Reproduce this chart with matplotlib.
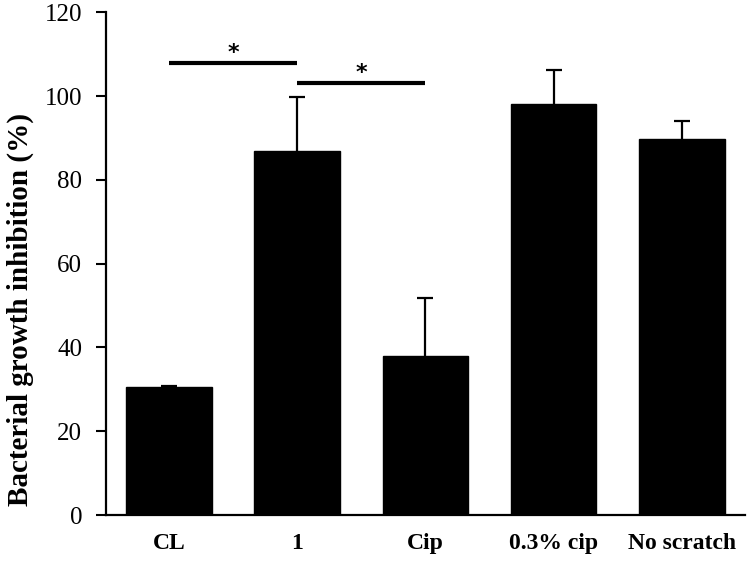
import matplotlib
matplotlib.use("Agg")
import matplotlib.pyplot as plt

# ------------------------------------  data  ------------------------------------
groups = ["CL", "1", "Cip", "0.3% cip", "No scratch"]
inhibition = [30.5, 86.9, 37.9, 98.1, 89.7]     # bar heights (%)
errors = [0.4, 12.9, 13.8, 8.1, 4.3]            # upper error only

# significance brackets: (left group, right group, height)
sig_pairs = [(0, 1, 107.8), (1, 2, 103.1)]

# ------------------------------------  plot  ------------------------------------
plt.rcParams['font.family'] = ['Liberation Serif', 'DejaVu Serif']

fig = plt.figure(figsize=(7.5, 5.66), dpi=100)
ax = fig.add_axes([0.1413, 0.0901, 0.852, 0.888])

x = list(range(len(groups)))
ax.bar(x, inhibition, width=0.665, color='black', edgecolor='black', zorder=2)
_, caps, _ = ax.errorbar(x, inhibition, yerr=[[0] * len(errors), errors], fmt='none',
                         ecolor='black', elinewidth=1.6, capsize=5.5, capthick=1.6, zorder=1)
caps[0].set_visible(False)   # only the upper cap is drawn

for left, right, h in sig_pairs:
    ax.plot([left, right], [h, h], color='black', linewidth=3, solid_capstyle='butt')
    ax.text((left + right) / 2, h + 2.4, "*", ha='center', va='center',
            fontsize=16, fontweight='bold', family='DejaVu Sans')

ax.set_xlim(-0.49, 4.49)
ax.set_ylim(0, 120)
ax.set_yticks(range(0, 121, 20))
ax.set_xticks(x)
ax.set_xticklabels(groups, fontsize=17, fontweight='bold')
ax.tick_params(axis='x', length=0, pad=13)
ax.tick_params(axis='y', length=7, width=1.5, labelsize=18, pad=10)
ax.set_ylabel("Bacterial growth inhibition (%)", fontsize=21, fontweight='bold')
ax.yaxis.set_label_coords(-0.112, 0.408)

for side in ['top', 'right']:
    ax.spines[side].set_visible(False)
for side in ['left', 'bottom']:
    ax.spines[side].set_linewidth(1.6)

fig.savefig("out.png", dpi=100)
